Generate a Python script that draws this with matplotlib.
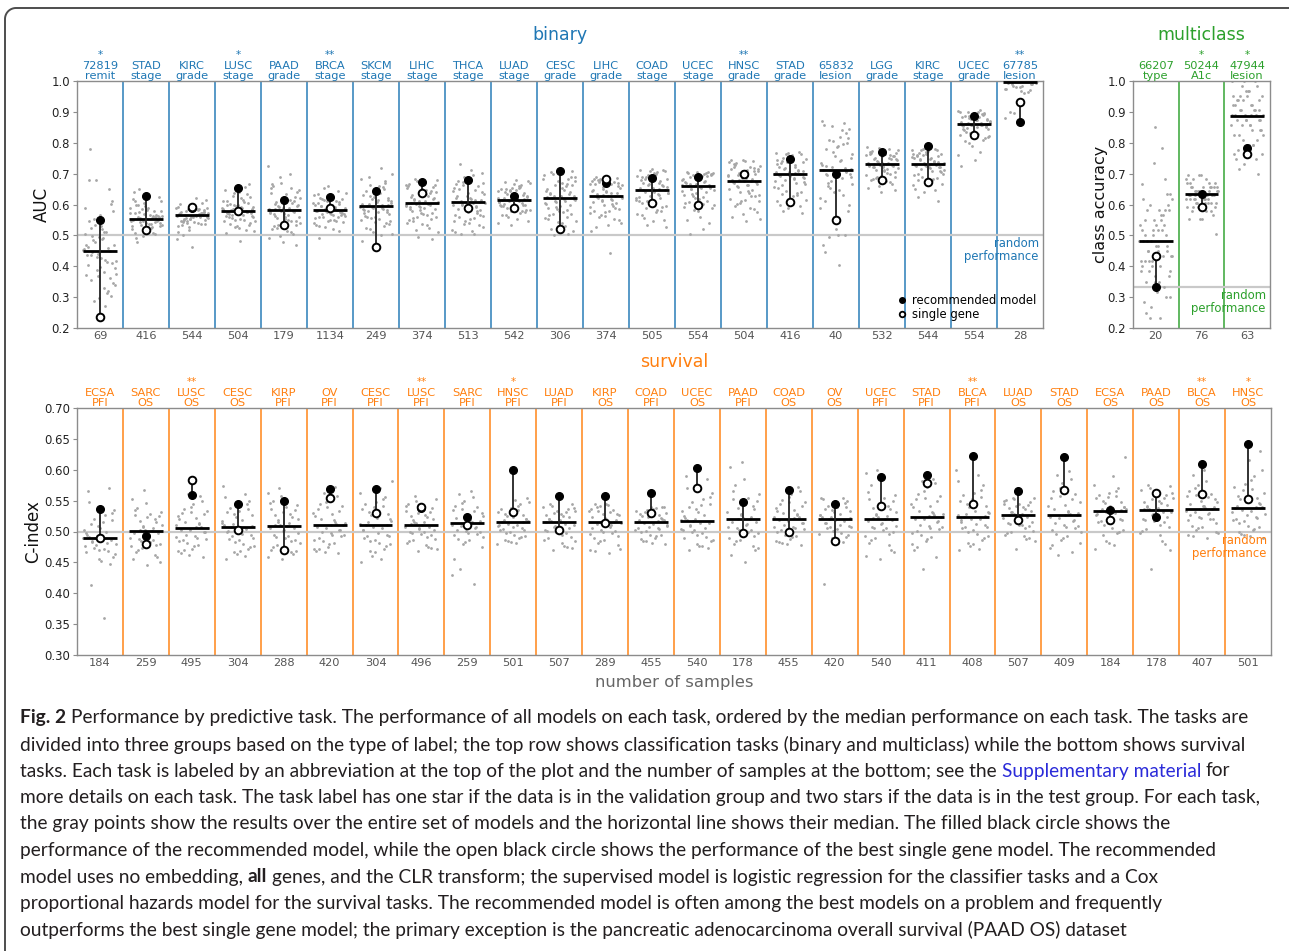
import matplotlib
matplotlib.use("Agg")
import matplotlib.pyplot as plt
from matplotlib.lines import Line2D
import numpy as np

W, H = 1289, 951
BLUE, GREEN, ORANGE = "#1f77b4", "#2ca02c", "#ff7f0e"

# ---- binary tasks (AUC) ----
BINARY_TASKS = ["72819\nremit", "STAD\nstage", "KIRC\ngrade", "LUSC\nstage", "PAAD\ngrade",
                "BRCA\nstage", "SKCM\nstage", "LIHC\nstage", "THCA\nstage", "LUAD\nstage",
                "CESC\ngrade", "LIHC\ngrade", "COAD\nstage", "UCEC\nstage", "HNSC\ngrade",
                "STAD\ngrade", "65832\nlesion", "LGG\ngrade", "KIRC\nstage", "UCEC\ngrade",
                "67785\nlesion"]
BINARY_STARS = ["*", "", "", "*", "", "**", "", "", "", "", "", "", "", "", "**",
                "", "", "", "", "", "**"]
BINARY_N = [69, 416, 544, 504, 179, 1134, 249, 374, 513, 542, 306, 374, 505, 554, 504,
            416, 40, 532, 544, 554, 28]
BINARY_MEDIAN = [0.451, 0.554, 0.565, 0.579, 0.582, 0.583, 0.595, 0.604, 0.607, 0.616,
                 0.622, 0.629, 0.648, 0.660, 0.676, 0.700, 0.713, 0.730, 0.730, 0.861, 0.998]
BINARY_RECOMMENDED = [0.551, 0.627, 0.590, 0.654, 0.615, 0.624, 0.645, 0.673, 0.678, 0.629,
                      0.708, 0.670, 0.686, 0.690, 0.699, 0.746, 0.700, 0.769, 0.790, 0.887, 0.867]
BINARY_SINGLE = [0.237, 0.519, 0.592, 0.578, 0.535, 0.589, 0.462, 0.638, 0.588, 0.590,
                 0.520, 0.682, 0.605, 0.599, 0.700, 0.608, 0.549, 0.678, 0.673, 0.825, 0.931]
# all models, values in thousandths
BINARY_POINTS = [
    [452, 381, 523, 610, 297, 468, 415, 553, 340, 488, 679, 362, 431, 505, 271, 447, 580, 398, 462, 320,
     533, 417, 490, 355, 602, 441, 372, 511, 289, 470, 426, 545, 650, 389, 456, 331, 498, 409, 566, 436,
     312, 478, 395, 520, 781, 448, 367, 590, 421, 485, 346, 531, 403, 460, 680, 375, 512, 438, 305, 495],
    [556, 531, 589, 612, 503, 547, 571, 524, 598, 562, 540, 618, 509, 553, 580, 537, 493, 566, 604, 548,
     528, 575, 559, 515, 641, 544, 585, 532, 567, 480, 551, 595, 520, 563, 542, 610, 526, 572, 557, 499,
     590, 538, 560, 625, 512, 549, 579, 535, 564, 518, 600, 546, 569, 529, 555, 650, 541, 583, 507, 558],
    [566, 548, 582, 597, 531, 570, 556, 589, 542, 575, 606, 519, 563, 584, 552, 536, 578, 601, 560, 545,
     571, 588, 502, 567, 554, 593, 539, 580, 614, 558, 547, 573, 527, 590, 562, 550, 576, 463, 568, 585,
     541, 559, 596, 534, 574, 553, 487, 581, 565, 549, 603, 572, 538, 586, 557, 620, 544, 577, 561, 512],
    [581, 554, 612, 633, 527, 590, 566, 603, 541, 578, 647, 519, 585, 560, 621, 572, 534, 596, 610, 549,
     583, 563, 640, 508, 577, 598, 545, 588, 569, 625, 530, 579, 656, 556, 593, 482, 574, 606, 551, 586,
     615, 537, 571, 600, 562, 580, 628, 513, 592, 558, 668, 575, 545, 609, 567, 584, 523, 597, 576, 638],
    [584, 547, 619, 652, 510, 596, 561, 633, 529, 575, 671, 490, 588, 556, 642, 570, 520, 605, 690, 541,
     582, 563, 625, 480, 577, 614, 535, 599, 552, 660, 503, 580, 724, 566, 608, 470, 573, 637, 545, 591,
     648, 514, 568, 611, 538, 586, 700, 525, 594, 558, 665, 579, 497, 621, 549, 603, 532, 589, 571, 655],
    [585, 561, 609, 628, 540, 592, 570, 617, 551, 580, 643, 527, 588, 566, 622, 575, 545, 600, 612, 558,
     583, 568, 633, 515, 578, 604, 549, 596, 571, 625, 535, 582, 655, 563, 598, 493, 576, 611, 555, 590,
     619, 542, 573, 606, 560, 586, 637, 521, 594, 565, 660, 579, 548, 614, 569, 587, 530, 601, 577, 630],
    [597, 561, 632, 658, 520, 610, 575, 644, 540, 588, 683, 500, 602, 568, 651, 583, 530, 619, 700, 552,
     595, 577, 638, 482, 590, 627, 547, 613, 564, 669, 512, 593, 718, 579, 622, 473, 585, 649, 556, 605,
     661, 524, 581, 625, 549, 599, 690, 536, 608, 571, 675, 592, 505, 636, 560, 615, 543, 601, 586, 663],
    [606, 571, 640, 662, 532, 618, 585, 651, 549, 597, 676, 512, 611, 578, 656, 592, 540, 628, 683, 561,
     604, 587, 645, 495, 600, 634, 555, 622, 574, 668, 523, 603, 680, 589, 631, 487, 595, 653, 566, 614,
     664, 537, 591, 637, 559, 608, 672, 545, 617, 581, 659, 601, 518, 642, 570, 624, 552, 610, 596, 648],
    [609, 567, 648, 672, 528, 622, 585, 660, 545, 598, 694, 506, 615, 576, 665, 593, 536, 633, 712, 558,
     607, 589, 655, 503, 603, 640, 552, 627, 571, 683, 519, 606, 730, 581, 636, 510, 596, 662, 563, 618,
     677, 532, 592, 645, 555, 611, 703, 540, 620, 578, 688, 604, 514, 651, 566, 629, 548, 613, 599, 670],
    [618, 593, 643, 660, 567, 627, 603, 651, 578, 612, 669, 553, 622, 598, 655, 609, 571, 635, 676, 585,
     616, 600, 647, 540, 613, 640, 581, 630, 596, 663, 561, 615, 680, 602, 637, 533, 607, 653, 590, 624,
     666, 565, 605, 644, 583, 620, 672, 575, 628, 599, 658, 614, 548, 648, 594, 632, 580, 621, 610, 650],
    [624, 581, 662, 688, 540, 637, 599, 675, 556, 612, 700, 515, 629, 590, 681, 607, 548, 648, 706, 570,
     622, 603, 668, 502, 617, 655, 565, 641, 585, 694, 530, 620, 710, 596, 651, 506, 610, 677, 577, 633,
     690, 543, 605, 659, 568, 626, 703, 553, 635, 592, 684, 619, 522, 664, 580, 644, 560, 628, 614, 671],
    [631, 592, 665, 680, 550, 643, 608, 672, 567, 621, 686, 528, 636, 600, 676, 616, 558, 652, 689, 580,
     629, 611, 668, 442, 625, 660, 575, 647, 596, 683, 540, 628, 690, 604, 656, 515, 618, 674, 587, 640,
     684, 553, 613, 663, 578, 633, 687, 563, 645, 601, 679, 626, 535, 667, 590, 650, 571, 637, 622, 670],
    [650, 612, 684, 701, 565, 662, 628, 692, 583, 641, 710, 545, 655, 620, 697, 636, 575, 671, 713, 598,
     648, 631, 688, 528, 644, 679, 593, 666, 616, 704, 557, 647, 715, 624, 675, 535, 638, 694, 606, 659,
     707, 570, 633, 682, 596, 652, 711, 580, 664, 622, 699, 646, 550, 686, 610, 669, 590, 657, 642, 690],
    [662, 625, 690, 700, 578, 672, 641, 695, 597, 654, 703, 540, 666, 632, 698, 649, 588, 680, 704, 612,
     660, 644, 692, 505, 656, 686, 606, 676, 629, 701, 560, 659, 705, 637, 683, 520, 651, 696, 619, 669,
     702, 582, 646, 688, 609, 664, 704, 593, 674, 634, 699, 657, 551, 691, 622, 678, 602, 667, 653, 694],
    [678, 632, 712, 731, 585, 690, 650, 721, 602, 667, 740, 560, 683, 641, 726, 662, 594, 699, 744, 618,
     676, 656, 716, 545, 672, 707, 612, 694, 638, 735, 575, 675, 745, 646, 703, 552, 664, 723, 626, 686,
     737, 590, 659, 710, 615, 680, 742, 606, 692, 644, 729, 673, 568, 714, 629, 697, 610, 685, 669, 719],
    [702, 662, 737, 755, 610, 713, 679, 746, 628, 692, 765, 588, 706, 670, 750, 687, 618, 723, 770, 643,
     700, 683, 740, 573, 696, 731, 637, 718, 666, 760, 600, 699, 768, 675, 727, 580, 690, 748, 652, 710,
     762, 615, 685, 734, 640, 704, 766, 632, 716, 672, 753, 697, 595, 738, 658, 720, 634, 708, 693, 743],
    [715, 648, 780, 832, 560, 735, 685, 810, 600, 702, 858, 501, 722, 667, 820, 695, 580, 758, 870, 630,
     713, 690, 790, 445, 708, 770, 620, 745, 660, 845, 520, 712, 865, 675, 765, 405, 700, 800, 640, 728,
     840, 495, 698, 785, 612, 718, 855, 590, 740, 670, 815, 710, 470, 795, 655, 750, 500, 725, 705, 805],
    [731, 705, 756, 770, 672, 740, 718, 763, 684, 726, 778, 655, 735, 712, 766, 723, 678, 748, 782, 695,
     730, 720, 758, 642, 728, 752, 690, 744, 709, 774, 665, 729, 785, 715, 750, 648, 724, 764, 700, 738,
     776, 675, 721, 757, 693, 733, 780, 686, 746, 711, 768, 727, 660, 759, 703, 747, 688, 736, 725, 761],
    [732, 700, 757, 770, 662, 741, 716, 764, 676, 726, 778, 640, 736, 709, 767, 722, 668, 749, 780, 688,
     730, 718, 759, 612, 727, 753, 682, 745, 705, 774, 650, 729, 779, 712, 751, 625, 723, 765, 694, 739,
     776, 665, 720, 758, 685, 734, 777, 678, 747, 708, 769, 728, 648, 760, 698, 748, 680, 737, 724, 762],
    [862, 838, 882, 893, 800, 870, 850, 888, 815, 857, 900, 770, 865, 845, 890, 855, 808, 876, 903, 828,
     861, 852, 884, 725, 859, 880, 822, 873, 842, 896, 790, 860, 905, 848, 878, 745, 856, 889, 833, 868,
     898, 805, 853, 883, 826, 864, 901, 818, 874, 846, 892, 858, 760, 885, 836, 875, 820, 866, 857, 887],
    [1000, 990, 1000, 975, 1000, 985, 1000, 968, 995, 1000, 980, 1000, 960, 1000, 990, 1000, 975, 1000,
     895, 1000, 985, 1000, 970, 1000, 880, 1000, 990, 1000, 980, 1000, 965, 1000, 995, 1000, 900, 1000],
]

# ---- multiclass tasks (class accuracy) ----
MULTI_TASKS = ["66207\ntype", "50244\nA1c", "47944\nlesion"]
MULTI_STARS = ["", "*", "*"]
MULTI_N = [20, 76, 63]
MULTI_MEDIAN = [0.482, 0.633, 0.886]
MULTI_RECOMMENDED = [0.332, 0.633, 0.783]
MULTI_SINGLE = [0.433, 0.593, 0.763]
MULTI_POINTS = [
    [483, 400, 583, 633, 350, 517, 433, 600, 383, 467, 550, 300, 500, 417, 567, 450, 367, 533, 617, 333,
     483, 433, 583, 250, 467, 550, 400, 517, 383, 633, 317, 500, 683, 417, 533, 233, 450, 600, 367, 483,
     567, 267, 433, 517, 350, 500, 733, 383, 550, 417, 583, 467, 283, 533, 400, 617, 350, 483, 450, 850,
     667, 783, 233, 300, 450, 417, 583, 517],
    [632, 605, 658, 671, 579, 645, 618, 684, 592, 632, 697, 553, 645, 605, 658, 618, 579, 632, 697, 592,
     632, 618, 671, 553, 632, 658, 592, 645, 605, 684, 566, 632, 697, 618, 645, 503, 632, 658, 605, 645,
     684, 579, 618, 658, 592, 632, 671, 605, 645, 618, 658, 632, 553, 671, 605, 645, 592, 632, 618, 658],
    [889, 825, 937, 968, 762, 905, 857, 952, 794, 873, 984, 730, 889, 841, 952, 873, 778, 921, 1000, 810,
     889, 857, 937, 698, 873, 921, 794, 905, 841, 968, 746, 889, 1000, 857, 921, 714, 873, 952, 825, 905,
     984, 762, 857, 937, 810, 889, 1000, 794, 905, 841, 968, 889, 746, 937, 825, 921, 778, 905, 873, 952],
]

# ---- survival tasks (C-index) ----
SURV_TASKS = ["ECSA\nPFI", "SARC\nOS", "LUSC\nOS", "CESC\nOS", "KIRP\nPFI", "OV\nPFI", "CESC\nPFI",
              "LUSC\nPFI", "SARC\nPFI", "HNSC\nPFI", "LUAD\nPFI", "KIRP\nOS", "COAD\nPFI", "UCEC\nOS",
              "PAAD\nPFI", "COAD\nOS", "OV\nOS", "UCEC\nPFI", "STAD\nPFI", "BLCA\nPFI", "LUAD\nOS",
              "STAD\nOS", "ECSA\nOS", "PAAD\nOS", "BLCA\nOS", "HNSC\nOS"]
SURV_STARS = ["", "", "**", "", "", "", "", "**", "", "*", "", "", "", "", "", "", "", "", "",
              "**", "", "", "", "", "**", "*"]
SURV_N = [184, 259, 495, 304, 288, 420, 304, 496, 259, 501, 507, 289, 455, 540, 178, 455, 420,
          540, 411, 408, 507, 409, 184, 178, 407, 501]
SURV_MEDIAN = [0.489, 0.501, 0.506, 0.508, 0.509, 0.510, 0.510, 0.511, 0.513, 0.515, 0.515, 0.516,
               0.516, 0.517, 0.520, 0.521, 0.521, 0.521, 0.524, 0.524, 0.526, 0.526, 0.534, 0.535,
               0.536, 0.538]
SURV_RECOMMENDED = [0.536, 0.492, 0.559, 0.544, 0.550, 0.569, 0.569, 0.538, 0.523, 0.600, 0.557,
                    0.558, 0.562, 0.603, 0.548, 0.568, 0.545, 0.588, 0.592, 0.623, 0.565, 0.620,
                    0.535, 0.523, 0.610, 0.642]
SURV_SINGLE = [0.490, 0.479, 0.584, 0.502, 0.470, 0.554, 0.530, 0.540, 0.510, 0.531, 0.502, 0.514,
               0.530, 0.570, 0.498, 0.499, 0.484, 0.541, 0.578, 0.545, 0.519, 0.568, 0.518, 0.563,
               0.561, 0.553]
SURV_POINTS = [
    [490, 472, 512, 530, 455, 497, 481, 521, 463, 488, 548, 447, 493, 476, 526, 484, 458, 505, 566, 468,
     489, 479, 515, 414, 486, 509, 466, 499, 474, 535, 452, 491, 570, 478, 503, 360, 483, 518, 470, 495],
    [502, 480, 523, 535, 462, 509, 490, 529, 470, 498, 546, 455, 505, 485, 531, 495, 466, 515, 567, 476,
     501, 488, 525, 445, 497, 520, 473, 511, 483, 538, 459, 503, 553, 486, 517, 450, 494, 527, 478, 507],
    [507, 487, 528, 540, 468, 514, 495, 533, 476, 503, 550, 462, 510, 490, 536, 500, 472, 520, 558, 481,
     506, 493, 530, 458, 502, 525, 478, 516, 488, 544, 465, 508, 560, 491, 522, 470, 499, 532, 484, 512],
    [509, 486, 531, 545, 467, 517, 496, 538, 475, 505, 556, 460, 512, 490, 541, 501, 471, 523, 573, 480,
     508, 494, 534, 455, 504, 528, 477, 519, 488, 549, 463, 510, 561, 492, 526, 468, 500, 536, 483, 514],
    [510, 487, 532, 546, 466, 518, 497, 540, 475, 506, 557, 459, 513, 491, 543, 502, 470, 524, 571, 481,
     509, 495, 535, 455, 505, 529, 478, 520, 489, 550, 463, 511, 562, 493, 527, 468, 501, 537, 484, 515],
    [511, 490, 534, 548, 472, 519, 499, 541, 479, 507, 558, 466, 514, 494, 545, 503, 475, 525, 572, 484,
     510, 497, 537, 465, 506, 530, 481, 521, 492, 551, 469, 512, 563, 495, 528, 471, 502, 539, 487, 516],
    [511, 487, 536, 552, 468, 520, 497, 544, 476, 507, 563, 455, 515, 492, 548, 503, 472, 526, 582, 482,
     510, 495, 539, 450, 506, 531, 479, 522, 489, 556, 461, 512, 571, 493, 529, 466, 502, 541, 485, 517],
    [512, 494, 530, 541, 478, 518, 502, 535, 484, 508, 550, 471, 515, 498, 538, 505, 481, 523, 558, 488,
     511, 500, 532, 468, 507, 527, 486, 520, 496, 545, 475, 513, 553, 499, 525, 473, 504, 534, 491, 516],
    [514, 494, 533, 546, 475, 520, 503, 539, 483, 510, 556, 440, 517, 498, 542, 507, 479, 525, 565, 488,
     513, 501, 535, 415, 509, 530, 486, 522, 496, 549, 430, 515, 560, 499, 527, 455, 505, 537, 491, 518],
    [516, 500, 531, 541, 486, 521, 507, 536, 491, 512, 548, 482, 518, 503, 538, 510, 489, 525, 555, 494,
     515, 505, 533, 480, 511, 529, 492, 523, 502, 544, 485, 517, 551, 504, 527, 483, 509, 535, 497, 520],
    [516, 497, 530, 538, 481, 521, 505, 534, 487, 512, 542, 473, 518, 501, 536, 509, 484, 525, 545, 491,
     515, 503, 532, 470, 511, 528, 489, 523, 499, 540, 477, 517, 544, 502, 527, 475, 508, 533, 494, 520],
    [517, 496, 531, 539, 478, 522, 505, 535, 485, 513, 543, 468, 519, 500, 537, 510, 481, 526, 545, 489,
     516, 503, 533, 465, 512, 529, 487, 524, 498, 541, 472, 518, 544, 501, 528, 470, 508, 534, 493, 521],
    [517, 501, 530, 536, 488, 522, 507, 533, 492, 513, 539, 482, 519, 504, 535, 510, 490, 525, 540, 495,
     516, 506, 531, 480, 512, 528, 494, 524, 503, 538, 485, 518, 540, 505, 527, 484, 509, 532, 499, 521],
    [518, 498, 540, 556, 480, 525, 506, 548, 487, 514, 570, 473, 521, 502, 552, 510, 484, 532, 590, 491,
     517, 504, 543, 470, 513, 537, 489, 527, 500, 563, 477, 519, 585, 503, 534, 476, 509, 545, 495, 522],
    [521, 497, 546, 566, 476, 529, 507, 555, 484, 516, 585, 462, 524, 502, 560, 512, 480, 536, 612, 490,
     520, 505, 550, 450, 515, 541, 487, 531, 500, 575, 470, 522, 605, 503, 538, 474, 510, 552, 493, 526],
    [522, 502, 542, 556, 485, 528, 510, 548, 491, 518, 565, 480, 524, 506, 551, 514, 488, 533, 572, 495,
     521, 508, 545, 478, 517, 538, 493, 530, 504, 560, 483, 523, 568, 507, 535, 482, 513, 547, 499, 526],
    [522, 504, 537, 546, 489, 527, 511, 541, 494, 518, 552, 483, 524, 508, 543, 514, 491, 531, 555, 498,
     521, 509, 539, 415, 517, 535, 496, 529, 506, 549, 486, 523, 554, 507, 533, 481, 513, 540, 501, 526],
    [522, 500, 546, 564, 478, 529, 509, 555, 486, 518, 585, 460, 525, 505, 559, 514, 482, 536, 600, 492,
     521, 507, 550, 455, 517, 541, 489, 531, 503, 575, 470, 523, 595, 506, 538, 466, 512, 552, 496, 526],
    [525, 501, 549, 566, 480, 532, 511, 557, 488, 521, 578, 440, 528, 506, 561, 517, 484, 539, 585, 494,
     524, 509, 552, 458, 520, 544, 491, 534, 504, 572, 470, 526, 582, 507, 541, 475, 515, 555, 498, 530],
    [525, 503, 550, 568, 482, 532, 512, 559, 490, 521, 582, 472, 528, 508, 563, 518, 486, 539, 600, 496,
     524, 510, 553, 470, 520, 545, 493, 534, 505, 575, 477, 526, 592, 507, 541, 480, 515, 556, 499, 530],
    [527, 509, 542, 549, 492, 532, 516, 545, 497, 523, 553, 485, 529, 512, 547, 520, 494, 537, 555, 501,
     526, 514, 543, 472, 522, 540, 499, 534, 510, 551, 488, 528, 554, 511, 538, 490, 518, 544, 505, 531],
    [527, 503, 552, 570, 482, 534, 513, 561, 490, 523, 585, 462, 530, 508, 565, 519, 486, 541, 598, 496,
     526, 511, 555, 466, 522, 547, 493, 536, 505, 578, 473, 528, 592, 509, 543, 478, 517, 558, 499, 532],
    [535, 514, 554, 566, 495, 540, 522, 559, 500, 531, 575, 478, 537, 518, 562, 528, 497, 546, 620, 505,
     534, 520, 556, 472, 530, 550, 503, 542, 516, 570, 485, 536, 590, 517, 548, 482, 526, 557, 510, 539],
    [536, 515, 552, 563, 495, 541, 524, 557, 501, 532, 570, 470, 538, 519, 559, 529, 498, 546, 575, 507,
     535, 521, 554, 440, 531, 549, 504, 543, 517, 567, 485, 537, 573, 518, 547, 480, 527, 555, 511, 540],
    [537, 518, 556, 570, 500, 542, 526, 561, 505, 533, 582, 493, 539, 522, 565, 530, 503, 547, 600, 509,
     536, 524, 558, 490, 532, 552, 507, 544, 520, 575, 497, 538, 592, 521, 549, 495, 528, 559, 513, 541],
    [539, 517, 563, 583, 499, 546, 527, 572, 504, 535, 600, 492, 542, 522, 577, 531, 502, 552, 630, 509,
     538, 524, 567, 490, 534, 557, 507, 548, 519, 590, 496, 540, 615, 521, 555, 494, 529, 569, 513, 544],
]

CHANCE_BINARY = 0.5
CHANCE_MULTI = 1 / 3
CHANCE_SURV = 0.5

CAPTION = [
    [("Fig. 2", "bold", None), (" Performance by predictive task. The performance of all models on each task, "
                                "ordered by the median performance on each task. The tasks are", "normal", None)],
    [("divided into three groups based on the type of label; the top row shows classification tasks "
      "(binary and multiclass) while the bottom shows survival", "normal", None)],
    [("tasks. Each task is labeled by an abbreviation at the top of the plot and the number of samples "
      "at the bottom; see the ", "normal", None), ("Supplementary material", "normal", "#2b2bd9"),
     (" for", "normal", None)],
    [("more details on each task. The task label has one star if the data is in the validation group "
      "and two stars if the data is in the test group. For each task,", "normal", None)],
    [("the gray points show the results over the entire set of models and the horizontal line shows "
      "their median. The filled black circle shows the", "normal", None)],
    [("performance of the recommended model, while the open black circle shows the performance of the "
      "best single gene model. The recommended", "normal", None)],
    [("model uses no embedding, ", "normal", None), ("all", "bold", None),
     (" genes, and the CLR transform; the supervised model is logistic regression for the classifier "
      "tasks and a Cox", "normal", None)],
    [("proportional hazards model for the survival tasks. The recommended model is often among the "
      "best models on a problem and frequently", "normal", None)],
    [("outperforms the best single gene model; the primary exception is the pancreatic adenocarcinoma "
      "overall survival (PAAD OS) dataset", "normal", None)],
]

SPINE = "#8c8c8c"
POINT = "#a6a6a6"
LABEL_FS = 8.2


def px_rect(left, top, right, bottom):
    return [left / W, 1 - bottom / H, (right - left) / W, (bottom - top) / H]


def draw_panel(ax, tasks, stars, ns, medians, recs, singles, points, color,
               ylim, yticks, fmt, chance, ylabel, label_x):
    n = len(tasks)
    for i in range(n - 1):
        ax.axvline(i + 0.5, color=color, lw=1.4, alpha=0.75, zorder=0)
    ax.axhline(chance, color="#c9c9c9", lw=1.6, zorder=0.5)

    for i, vals in enumerate(points):
        y = np.array(vals) / 1000
        k = np.arange(len(y))
        x = i + (((k * 0.6180339887) + 0.31 * i) % 1 - 0.5) * 0.72
        ax.scatter(x, y, s=4, color=POINT, linewidths=0, zorder=1)

    for i in range(n):
        ax.plot([i - 0.37, i + 0.37], [medians[i], medians[i]], color="black", lw=2, zorder=3,
                solid_capstyle="butt")
        ax.plot([i, i], [singles[i], recs[i]], color="#222222", lw=1.3, zorder=3.5)
        ax.plot(i, recs[i], "o", color="black", ms=5.5, zorder=4)
        ax.plot(i, singles[i], "o", mfc="white", mec="black", mew=1.4, ms=5.5, zorder=5)

    for i, (lab, st) in enumerate(zip(tasks, stars)):
        ax.annotate(lab, xy=(i, 1), xycoords=("data", "axes fraction"), xytext=(0, 0.3),
                    textcoords="offset points", ha="center", va="bottom", fontsize=LABEL_FS,
                    color=color, linespacing=1.0)
        if st:
            ax.annotate(st, xy=(i, 1), xycoords=("data", "axes fraction"), xytext=(0, 16.5),
                        textcoords="offset points", ha="center", va="baseline", fontsize=7.5,
                        color=color)

    ax.set_xlim(-0.5, n - 0.5)
    ax.set_ylim(*ylim)
    ax.set_yticks(yticks)
    ax.set_yticklabels([fmt.format(t) for t in yticks])
    ax.set_xticks(range(n))
    ax.set_xticklabels([str(v) for v in ns])
    ax.tick_params(axis="x", length=0, pad=2.5, labelsize=LABEL_FS, labelcolor="#555555")
    ax.tick_params(axis="y", length=3, width=0.8, color=SPINE, pad=2, labelsize=8.4,
                   labelcolor="#222222")
    for sp in ax.spines.values():
        sp.set_color(SPINE)
        sp.set_linewidth(1.0)
    ax.set_ylabel(ylabel, fontsize=12 if ylabel != "class accuracy" else 11.5, color="#111111")
    ax.yaxis.set_label_coords(label_x, 0.5)

    ax.annotate("random\nperformance", xy=(1, chance), xycoords=("axes fraction", "data"),
                xytext=(-3, -1.5), textcoords="offset points", ha="right", va="top",
                fontsize=8.4, color=color, linespacing=1.0, zorder=6)


def draw_caption(fig):
    renderer = fig.canvas.get_renderer()
    family = ["Lato", "DejaVu Sans"]

    def width(text, size, weight):
        t = fig.text(0, 0, text, fontsize=size, fontweight=weight, family=family)
        w = t.get_window_extent(renderer).width
        t.remove()
        return w

    def line_width(runs, size):
        sp = width("x x", size, "normal") - width("xx", size, "normal")
        total = 0
        for s, weight, _ in runs:
            lead = len(s) - len(s.lstrip(" "))
            trail = len(s) - len(s.rstrip(" "))
            total += (lead + trail) * sp + width(s.strip(), size, weight)
        return total

    size = 12.0
    widest = max(line_width(runs, size) for runs in CAPTION)
    size *= 1240 / widest
    sp = width("x x", size, "normal") - width("xx", size, "normal")
    for row, runs in enumerate(CAPTION):
        x = 20.0
        y = 718 + row * 26.5
        for s, weight, col in runs:
            lead = len(s) - len(s.lstrip(" "))
            trail = len(s) - len(s.rstrip(" "))
            x += lead * sp
            t = fig.text(x / W, 1 - y / H, s.strip(), fontsize=size, fontweight=weight,
                         family=family, color=col or "#231f20", va="center", ha="left")
            x += t.get_window_extent(renderer).width + trail * sp


def draw_border(fig):
    r = 11
    ang = np.linspace(np.pi, 1.5 * np.pi, 20)
    cx, cy = 5 + r, 8 + r
    xs = [5] + list(cx + r * np.cos(ang)) + [W + 5]
    ys = [H + 5] + list(cy + r * np.sin(ang)) + [8]
    fig.add_artist(Line2D(np.array(xs) / W, 1 - np.array(ys) / H, transform=fig.transFigure,
                          color="#4d4d4d", lw=1.4))


fig = plt.figure(figsize=(W / 100, H / 100), dpi=100)
fig.patch.set_facecolor("white")

ax_bin = fig.add_axes(px_rect(77, 81, 1043, 328))
ax_multi = fig.add_axes(px_rect(1133, 81, 1270, 328))
ax_surv = fig.add_axes(px_rect(77, 408, 1271, 655))

draw_panel(ax_bin, BINARY_TASKS, BINARY_STARS, BINARY_N, BINARY_MEDIAN, BINARY_RECOMMENDED,
           BINARY_SINGLE, BINARY_POINTS, BLUE, (0.2, 1.0), np.round(np.arange(0.2, 1.01, 0.1), 2),
           "{:.1f}", CHANCE_BINARY, "AUC", -0.027)
draw_panel(ax_multi, MULTI_TASKS, MULTI_STARS, MULTI_N, MULTI_MEDIAN, MULTI_RECOMMENDED,
           MULTI_SINGLE, MULTI_POINTS, GREEN, (0.2, 1.0), np.round(np.arange(0.2, 1.01, 0.1), 2),
           "{:.1f}", CHANCE_MULTI, "class accuracy", -0.18)
draw_panel(ax_surv, SURV_TASKS, SURV_STARS, SURV_N, SURV_MEDIAN, SURV_RECOMMENDED,
           SURV_SINGLE, SURV_POINTS, ORANGE, (0.30, 0.70), np.round(np.arange(0.30, 0.701, 0.05), 2),
           "{:.2f}", CHANCE_SURV, "C-index", -0.029)

handles = [Line2D([], [], ls="", marker="o", color="black", ms=4),
           Line2D([], [], ls="", marker="o", mfc="white", mec="black", mew=1.3, ms=4)]
ax_bin.legend(handles, ["recommended model", "single gene"], loc="lower right", frameon=False,
              fontsize=8.4, handlelength=0.8, handletextpad=0.45, labelspacing=0.05,
              borderaxespad=0.5, borderpad=0.1)

fig.text(560 / W, 1 - 35 / H, "binary", ha="center", va="center", fontsize=12.5, color=BLUE)
fig.text(1201 / W, 1 - 35 / H, "multiclass", ha="center", va="center", fontsize=12.5, color=GREEN)
fig.text(674 / W, 1 - 362 / H, "survival", ha="center", va="center", fontsize=12.5, color=ORANGE)
fig.text(674 / W, 1 - 682 / H, "number of samples", ha="center", va="center", fontsize=11.8,
         color="#666666")

draw_border(fig)
draw_caption(fig)

fig.savefig("out.png", dpi=100, facecolor="white")
